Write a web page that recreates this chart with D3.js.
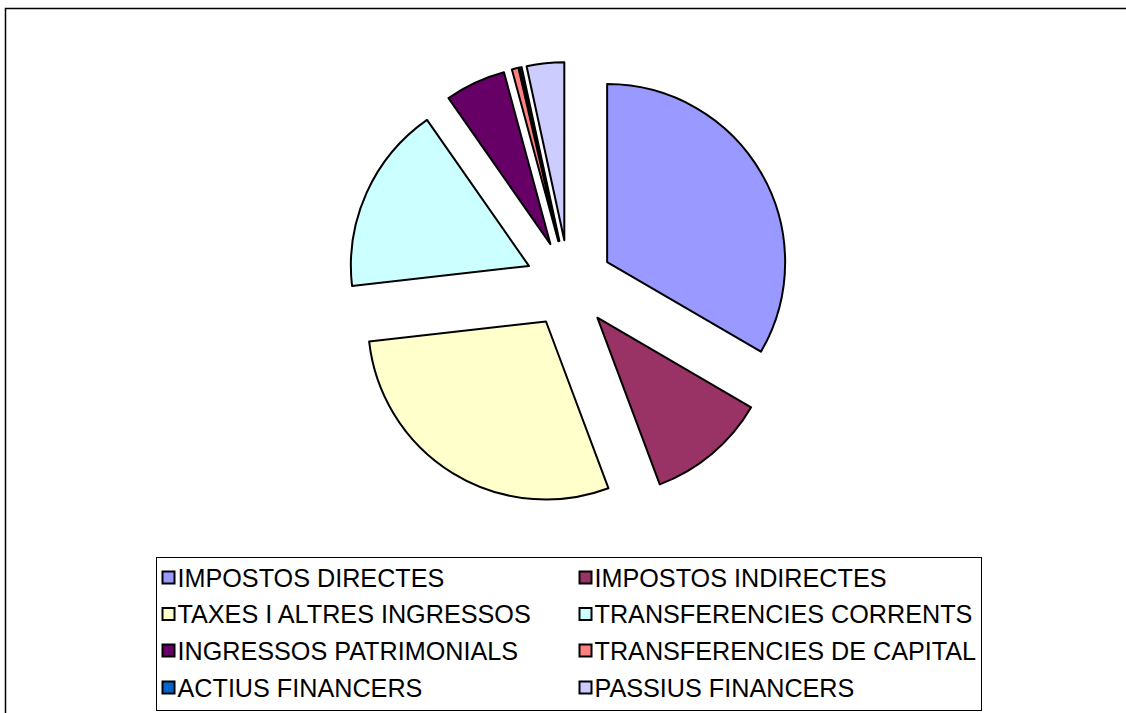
<!DOCTYPE html>
<html>
<head>
<meta charset="utf-8">
<script src="https://cdn.jsdelivr.net/npm/d3@7"></script>
<style>
  body { margin: 0; background: #fff; }
  svg { display: block; }
</style>
</head>
<body>
<script>
    "use strict";

    var categories = ["IMPOSTOS DIRECTES", "IMPOSTOS INDIRECTES", "TAXES I ALTRES INGRESSOS",
                      "TRANSFERENCIES CORRENTS", "INGRESSOS PATRIMONIALS", "TRANSFERENCIES DE CAPITAL",
                      "ACTIUS FINANCERS", "PASSIUS FINANCERS"];
    var values = [33.4, 10.9, 28.9, 17.1, 5.5, 0.6, 0.2, 3.4];
    var colors = ["#9999FF", "#993366", "#FFFFCC", "#CCFFFF", "#660066", "#FF8080", "#0066CC", "#CCCCFF"];

    var width = 1126,
        height = 713,
        cx = 569,
        cy = 284,
        radius = 178,
        explode = 44;

    var svg = d3.select("body").append("svg")
        .attr("width", width)
        .attr("height", height);

    // outer frame (top and left only are visible)
    svg.append("path")
        .attr("d", "M5.5,713 V8.5 H1126")
        .attr("fill", "none")
        .attr("stroke", "#000")
        .attr("stroke-width", 1.5);

    var pie = d3.pie()
        .sort(null)
        .value(function(d) { return d; });

    var arc = d3.arc()
        .innerRadius(0)
        .outerRadius(radius);

    var arcs = pie(values);

    svg.append("g")
        .attr("transform", "translate(" + cx + "," + cy + ")")
        .selectAll("path")
        .data(arcs)
        .enter().append("path")
            .attr("d", arc)
            .attr("fill", function(d, i) { return colors[i]; })
            .attr("stroke", "#000")
            .attr("stroke-width", 2)
            .attr("stroke-linejoin", "round")
            .attr("transform", function(d) {
                var mid = (d.startAngle + d.endAngle) / 2;
                return "translate(" + (Math.sin(mid) * explode) + "," + (-Math.cos(mid) * explode) + ")";
            });

    // legend
    var legend = svg.append("g");
    legend.append("rect")
        .attr("x", 156.5)
        .attr("y", 557.5)
        .attr("width", 825)
        .attr("height", 153)
        .attr("fill", "#fff")
        .attr("stroke", "#000")
        .attr("stroke-width", 1);

    var colX = [162, 579],
        rowY = [578, 614.5, 651, 688];

    var items = legend.selectAll("g.item")
        .data(categories)
        .enter().append("g")
            .attr("class", "item")
            .attr("transform", function(d, i) {
                return "translate(" + colX[i % 2] + "," + rowY[Math.floor(i / 2)] + ")";
            });

    items.append("rect")
        .attr("x", 0.5)
        .attr("y", -6.5)
        .attr("width", 12)
        .attr("height", 12)
        .attr("fill", function(d, i) { return colors[i]; })
        .attr("stroke", "#000")
        .attr("stroke-width", 2);

    items.append("text")
        .attr("x", 15.5)
        .attr("y", 0)
        .attr("dy", "0.35em")
        .attr("font-family", "'Liberation Sans', Arial, sans-serif")
        .attr("font-size", 25.2)
        .attr("fill", "#000")
        .text(function(d) { return d; });
</script>
</body>
</html>
